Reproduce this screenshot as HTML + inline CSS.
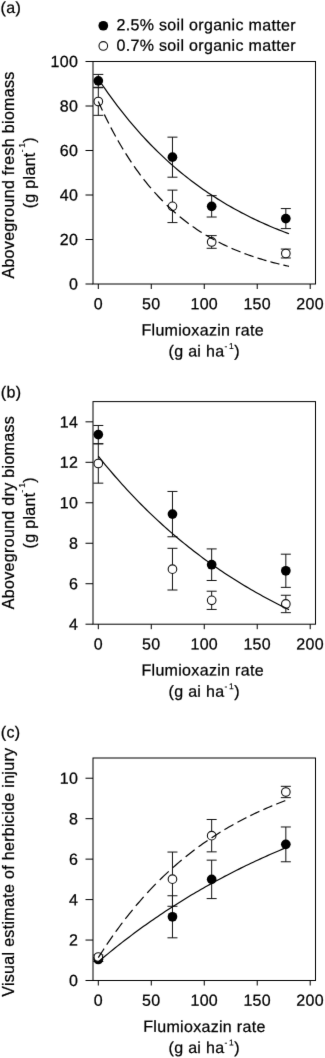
<!DOCTYPE html>
<html><head><meta charset="utf-8"><style>
html,body{margin:0;padding:0;background:#fff;}
body{width:325px;height:1058px;overflow:hidden;}
svg{display:block;will-change:transform;}
text{font-family:"Liberation Sans", sans-serif;font-size:16px;fill:#000;letter-spacing:0.32px;stroke:#000;stroke-width:0.25px;}
</style></head><body>
<svg width="325" height="1058" viewBox="0 0 325 1058">
<defs><filter id="soft" filterUnits="userSpaceOnUse" x="0" y="0" width="325" height="1058" color-interpolation-filters="sRGB"><feConvolveMatrix order="3" kernelMatrix="0.00524 0.06192 0.00524 0.06192 0.73137 0.06192 0.00524 0.06192 0.00524" divisor="1" edgeMode="duplicate" preserveAlpha="true"/></filter></defs>
<g filter="url(#soft)">
<rect width="325" height="1058" fill="#fff"/>
<rect x="93.0" y="61.5" width="222.50" height="222.50" fill="none" stroke="#000" stroke-width="1.0"/>
<line x1="85.5" y1="284.00" x2="93.0" y2="284.00" stroke="#000" stroke-width="1"/>
<text transform="translate(78.15,289.55) rotate(0.03)" text-anchor="end">0</text>
<line x1="85.5" y1="239.50" x2="93.0" y2="239.50" stroke="#000" stroke-width="1"/>
<text transform="translate(78.15,245.05) rotate(0.03)" text-anchor="end">20</text>
<line x1="85.5" y1="195.00" x2="93.0" y2="195.00" stroke="#000" stroke-width="1"/>
<text transform="translate(78.15,200.55) rotate(0.03)" text-anchor="end">40</text>
<line x1="85.5" y1="150.50" x2="93.0" y2="150.50" stroke="#000" stroke-width="1"/>
<text transform="translate(78.15,156.05) rotate(0.03)" text-anchor="end">60</text>
<line x1="85.5" y1="106.00" x2="93.0" y2="106.00" stroke="#000" stroke-width="1"/>
<text transform="translate(78.15,111.55) rotate(0.03)" text-anchor="end">80</text>
<line x1="85.5" y1="61.50" x2="93.0" y2="61.50" stroke="#000" stroke-width="1"/>
<text transform="translate(78.15,67.05) rotate(0.03)" text-anchor="end">100</text>
<line x1="98.30" y1="284.0" x2="98.30" y2="289.0" stroke="#000" stroke-width="1"/>
<text transform="translate(98.30,309.20) rotate(0.03)" text-anchor="middle">0</text>
<line x1="151.27" y1="284.0" x2="151.27" y2="289.0" stroke="#000" stroke-width="1"/>
<text transform="translate(151.27,309.20) rotate(0.03)" text-anchor="middle">50</text>
<line x1="204.25" y1="284.0" x2="204.25" y2="289.0" stroke="#000" stroke-width="1"/>
<text transform="translate(204.25,309.20) rotate(0.03)" text-anchor="middle">100</text>
<line x1="257.23" y1="284.0" x2="257.23" y2="289.0" stroke="#000" stroke-width="1"/>
<text transform="translate(257.23,309.20) rotate(0.03)" text-anchor="middle">150</text>
<line x1="310.20" y1="284.0" x2="310.20" y2="289.0" stroke="#000" stroke-width="1"/>
<text transform="translate(310.20,309.20) rotate(0.03)" text-anchor="middle">200</text>
<text transform="translate(202.66,335.40) rotate(0.03)" text-anchor="middle">Flumioxazin rate</text>
<text transform="translate(204.16,356.50) rotate(0.03)" text-anchor="middle">(g ai ha<tspan dy="-7.5" font-size="8.5" stroke-width="0.12">-</tspan><tspan dx="1.5" font-size="8.5" stroke-width="0.12">1</tspan><tspan dy="7.5">)</tspan></text>
<text transform="translate(13.80,175.00) rotate(-90)" text-anchor="middle">Aboveground fresh biomass</text>
<text transform="translate(35.30,172.65) rotate(-90)" text-anchor="middle">(g plant<tspan dy="-10.3" font-size="8.5" stroke-width="0.12">-</tspan><tspan dx="1.5" font-size="8.5" stroke-width="0.12">1</tspan><tspan dy="10.3">)</tspan></text>
<path d="M98.30,74.41V87.31M93.30,74.41H103.30M93.30,87.31H103.30" stroke="#111" stroke-width="1" fill="none"/>
<path d="M172.46,137.15V177.20M167.46,137.15H177.46M167.46,177.20H177.46" stroke="#111" stroke-width="1" fill="none"/>
<path d="M211.67,195.67V217.03M206.67,195.67H216.67M206.67,217.03H216.67" stroke="#111" stroke-width="1" fill="none"/>
<path d="M285.83,208.57V228.60M280.83,208.57H290.83M280.83,228.60H290.83" stroke="#111" stroke-width="1" fill="none"/>
<path d="M98.30,87.75V115.34M93.30,87.75H103.30M93.30,115.34H103.30" stroke="#111" stroke-width="1" fill="none"/>
<path d="M172.46,190.11V222.59M167.46,190.11H177.46M167.46,222.59H177.46" stroke="#111" stroke-width="1" fill="none"/>
<path d="M211.67,235.61V248.29M206.67,235.61H216.67M206.67,248.29H216.67" stroke="#111" stroke-width="1" fill="none"/>
<path d="M285.83,249.07V257.97M280.83,249.07H290.83M280.83,257.97H290.83" stroke="#111" stroke-width="1" fill="none"/>
<circle cx="98.30" cy="80.86" r="4.85" fill="#000"/>
<circle cx="172.46" cy="157.18" r="4.85" fill="#000"/>
<circle cx="211.67" cy="206.35" r="4.85" fill="#000"/>
<circle cx="285.83" cy="218.58" r="4.85" fill="#000"/>
<circle cx="98.30" cy="101.55" r="4.3" fill="#fff" stroke="#111" stroke-width="1.1"/>
<circle cx="172.46" cy="206.35" r="4.3" fill="#fff" stroke="#111" stroke-width="1.1"/>
<circle cx="211.67" cy="241.95" r="4.3" fill="#fff" stroke="#111" stroke-width="1.1"/>
<circle cx="285.83" cy="253.52" r="4.3" fill="#fff" stroke="#111" stroke-width="1.1"/>
<polyline points="98.30,78.92 100.68,82.50 103.07,86.01 105.45,89.46 107.83,92.85 110.22,96.18 112.60,99.46 114.99,102.67 117.37,105.83 119.75,108.94 122.14,111.99 124.52,114.99 126.90,117.93 129.29,120.83 131.67,123.67 134.06,126.47 136.44,129.21 138.82,131.91 141.21,134.56 143.59,137.17 145.98,139.73 148.36,142.24 150.74,144.71 153.13,147.14 155.51,149.52 157.90,151.87 160.28,154.17 162.66,156.43 165.05,158.66 167.43,160.84 169.82,162.99 172.20,165.10 174.58,167.17 176.97,169.21 179.35,171.21 181.74,173.17 184.12,175.11 186.50,177.00 188.89,178.87 191.27,180.70 193.65,182.50 196.04,184.27 198.42,186.01 200.81,187.72 203.19,189.40 205.57,191.04 207.96,192.66 210.34,194.26 212.73,195.82 215.11,197.36 217.49,198.87 219.88,200.35 222.26,201.81 224.65,203.24 227.03,204.65 229.41,206.03 231.80,207.39 234.18,208.73 236.57,210.04 238.95,211.33 241.33,212.60 243.72,213.84 246.10,215.06 248.49,216.26 250.87,217.44 253.25,218.60 255.64,219.74 258.02,220.86 260.40,221.97 262.79,223.05 265.17,224.11 267.56,225.15 269.94,226.18 272.32,227.19 274.71,228.18 277.09,229.15 279.48,230.11 281.86,231.04 284.24,231.97 286.63,232.87 289.01,233.77" fill="none" stroke="#000" stroke-width="1.2"/>
<path d="M98.30,101.53L98.77,102.59L100.68,106.77L102.43,110.53M104.31,114.48L104.50,114.86L106.40,118.76L108.31,122.57L108.77,123.48M110.81,127.43L111.17,128.12L113.08,131.72L114.99,135.23L115.65,136.43M117.86,140.38L118.32,141.18L120.23,144.48L122.14,147.70L123.15,149.38M125.59,153.33L125.95,153.91L127.86,156.91L129.77,159.84L131.42,162.33M134.11,166.28L134.53,166.88L136.44,169.58L138.35,172.22L140.25,174.80L140.61,175.28M143.64,179.23L144.07,179.78L145.98,182.18L147.88,184.53L149.79,186.83L150.98,188.23M154.42,192.18L154.56,192.33L156.47,194.45L158.37,196.51L160.28,198.53L162.19,200.50L162.85,201.18M166.79,205.08L166.95,205.24L168.86,207.05L170.77,208.83L172.68,210.56L174.58,212.26L175.79,213.31M179.74,216.64L179.83,216.71L181.74,218.27L183.64,219.78L185.55,221.26L187.46,222.71L188.74,223.67M192.69,226.52L192.70,226.52L194.61,227.85L196.52,229.14L198.42,230.41L200.33,231.64L201.69,232.51M205.64,234.94L206.05,235.18L207.96,236.31L209.87,237.41L211.77,238.48L213.68,239.53L214.64,240.06M218.59,242.13L218.92,242.30L220.83,243.26L222.74,244.20L224.65,245.12L226.55,246.02L227.59,246.50M231.54,248.26L231.80,248.38L233.70,249.20L235.61,250.00L237.52,250.79L239.43,251.55L240.54,251.99M244.49,253.50L244.67,253.57L246.58,254.27L248.49,254.96L250.39,255.63L252.30,256.28L253.49,256.68M257.44,257.97L257.54,258.00L259.45,258.60L261.36,259.19L263.27,259.76L265.17,260.32L266.44,260.69M270.39,261.79L270.42,261.79L272.32,262.30L274.23,262.81L276.14,263.29L278.05,263.77L279.39,264.10M283.34,265.04L283.77,265.14L285.67,265.57L287.58,266.00L289.01,266.31" fill="none" stroke="#000" stroke-width="1.2"/>
<rect x="93.0" y="401.6" width="222.50" height="222.60" fill="none" stroke="#000" stroke-width="1.0"/>
<line x1="85.5" y1="624.20" x2="93.0" y2="624.20" stroke="#000" stroke-width="1"/>
<text transform="translate(78.15,629.75) rotate(0.03)" text-anchor="end">4</text>
<line x1="85.5" y1="583.73" x2="93.0" y2="583.73" stroke="#000" stroke-width="1"/>
<text transform="translate(78.15,589.28) rotate(0.03)" text-anchor="end">6</text>
<line x1="85.5" y1="543.25" x2="93.0" y2="543.25" stroke="#000" stroke-width="1"/>
<text transform="translate(78.15,548.80) rotate(0.03)" text-anchor="end">8</text>
<line x1="85.5" y1="502.78" x2="93.0" y2="502.78" stroke="#000" stroke-width="1"/>
<text transform="translate(78.15,508.33) rotate(0.03)" text-anchor="end">10</text>
<line x1="85.5" y1="462.31" x2="93.0" y2="462.31" stroke="#000" stroke-width="1"/>
<text transform="translate(78.15,467.86) rotate(0.03)" text-anchor="end">12</text>
<line x1="85.5" y1="421.84" x2="93.0" y2="421.84" stroke="#000" stroke-width="1"/>
<text transform="translate(78.15,427.39) rotate(0.03)" text-anchor="end">14</text>
<line x1="98.30" y1="624.2" x2="98.30" y2="629.2" stroke="#000" stroke-width="1"/>
<text transform="translate(98.30,649.40) rotate(0.03)" text-anchor="middle">0</text>
<line x1="151.27" y1="624.2" x2="151.27" y2="629.2" stroke="#000" stroke-width="1"/>
<text transform="translate(151.27,649.40) rotate(0.03)" text-anchor="middle">50</text>
<line x1="204.25" y1="624.2" x2="204.25" y2="629.2" stroke="#000" stroke-width="1"/>
<text transform="translate(204.25,649.40) rotate(0.03)" text-anchor="middle">100</text>
<line x1="257.23" y1="624.2" x2="257.23" y2="629.2" stroke="#000" stroke-width="1"/>
<text transform="translate(257.23,649.40) rotate(0.03)" text-anchor="middle">150</text>
<line x1="310.20" y1="624.2" x2="310.20" y2="629.2" stroke="#000" stroke-width="1"/>
<text transform="translate(310.20,649.40) rotate(0.03)" text-anchor="middle">200</text>
<text transform="translate(202.66,675.60) rotate(0.03)" text-anchor="middle">Flumioxazin rate</text>
<text transform="translate(204.16,696.70) rotate(0.03)" text-anchor="middle">(g ai ha<tspan dy="-7.5" font-size="8.5" stroke-width="0.12">-</tspan><tspan dx="1.5" font-size="8.5" stroke-width="0.12">1</tspan><tspan dy="7.5">)</tspan></text>
<text transform="translate(13.80,512.50) rotate(-90)" text-anchor="middle">Aboveground dry biomass</text>
<text transform="translate(35.30,512.80) rotate(-90)" text-anchor="middle">(g plant<tspan dy="-10.3" font-size="8.5" stroke-width="0.12">-</tspan><tspan dx="1.5" font-size="8.5" stroke-width="0.12">1</tspan><tspan dy="10.3">)</tspan></text>
<path d="M98.30,425.48V443.69M93.30,425.48H103.30M93.30,443.69H103.30" stroke="#111" stroke-width="1" fill="none"/>
<path d="M172.46,491.45V536.78M167.46,491.45H177.46M167.46,536.78H177.46" stroke="#111" stroke-width="1" fill="none"/>
<path d="M211.67,548.92V580.49M206.67,548.92H216.67M206.67,580.49H216.67" stroke="#111" stroke-width="1" fill="none"/>
<path d="M285.83,554.18V587.37M280.83,554.18H290.83M280.83,587.37H290.83" stroke="#111" stroke-width="1" fill="none"/>
<path d="M98.30,443.89V483.15M93.30,443.89H103.30M93.30,483.15H103.30" stroke="#111" stroke-width="1" fill="none"/>
<path d="M172.46,548.31V590.00M167.46,548.31H177.46M167.46,590.00H177.46" stroke="#111" stroke-width="1" fill="none"/>
<path d="M211.67,591.21V609.43M206.67,591.21H216.67M206.67,609.43H216.67" stroke="#111" stroke-width="1" fill="none"/>
<path d="M285.83,595.26V612.67M280.83,595.26H290.83M280.83,612.67H290.83" stroke="#111" stroke-width="1" fill="none"/>
<circle cx="98.30" cy="434.59" r="4.85" fill="#000"/>
<circle cx="172.46" cy="514.11" r="4.85" fill="#000"/>
<circle cx="211.67" cy="564.71" r="4.85" fill="#000"/>
<circle cx="285.83" cy="570.78" r="4.85" fill="#000"/>
<circle cx="98.30" cy="463.52" r="4.3" fill="#fff" stroke="#111" stroke-width="1.1"/>
<circle cx="172.46" cy="569.16" r="4.3" fill="#fff" stroke="#111" stroke-width="1.1"/>
<circle cx="211.67" cy="600.32" r="4.3" fill="#fff" stroke="#111" stroke-width="1.1"/>
<circle cx="285.83" cy="603.96" r="4.3" fill="#fff" stroke="#111" stroke-width="1.1"/>
<polyline points="98.30,456.24 100.68,459.20 103.07,462.13 105.45,465.02 107.83,467.88 110.22,470.70 112.60,473.49 114.99,476.24 117.37,478.97 119.75,481.66 122.14,484.32 124.52,486.95 126.90,489.54 129.29,492.11 131.67,494.64 134.06,497.15 136.44,499.62 138.82,502.07 141.21,504.48 143.59,506.87 145.98,509.23 148.36,511.56 150.74,513.87 153.13,516.14 155.51,518.39 157.90,520.61 160.28,522.81 162.66,524.98 165.05,527.12 167.43,529.24 169.82,531.33 172.20,533.40 174.58,535.44 176.97,537.46 179.35,539.46 181.74,541.43 184.12,543.38 186.50,545.30 188.89,547.20 191.27,549.08 193.65,550.94 196.04,552.78 198.42,554.59 200.81,556.38 203.19,558.15 205.57,559.90 207.96,561.63 210.34,563.34 212.73,565.02 215.11,566.69 217.49,568.34 219.88,569.97 222.26,571.57 224.65,573.16 227.03,574.73 229.41,576.28 231.80,577.82 234.18,579.33 236.57,580.83 238.95,582.31 241.33,583.77 243.72,585.22 246.10,586.64 248.49,588.05 250.87,589.45 253.25,590.82 255.64,592.18 258.02,593.53 260.40,594.85 262.79,596.17 265.17,597.46 267.56,598.74 269.94,600.01 272.32,601.26 274.71,602.50 277.09,603.72 279.48,604.93 281.86,606.12 284.24,607.30 286.63,608.46 289.01,609.61" fill="none" stroke="#000" stroke-width="1.2"/>
<rect x="93.0" y="758.0" width="222.50" height="222.50" fill="none" stroke="#000" stroke-width="1.0"/>
<line x1="85.5" y1="980.50" x2="93.0" y2="980.50" stroke="#000" stroke-width="1"/>
<text transform="translate(78.15,986.05) rotate(0.03)" text-anchor="end">0</text>
<line x1="85.5" y1="940.05" x2="93.0" y2="940.05" stroke="#000" stroke-width="1"/>
<text transform="translate(78.15,945.60) rotate(0.03)" text-anchor="end">2</text>
<line x1="85.5" y1="899.59" x2="93.0" y2="899.59" stroke="#000" stroke-width="1"/>
<text transform="translate(78.15,905.14) rotate(0.03)" text-anchor="end">4</text>
<line x1="85.5" y1="859.14" x2="93.0" y2="859.14" stroke="#000" stroke-width="1"/>
<text transform="translate(78.15,864.69) rotate(0.03)" text-anchor="end">6</text>
<line x1="85.5" y1="818.68" x2="93.0" y2="818.68" stroke="#000" stroke-width="1"/>
<text transform="translate(78.15,824.23) rotate(0.03)" text-anchor="end">8</text>
<line x1="85.5" y1="778.23" x2="93.0" y2="778.23" stroke="#000" stroke-width="1"/>
<text transform="translate(78.15,783.78) rotate(0.03)" text-anchor="end">10</text>
<line x1="98.30" y1="980.5" x2="98.30" y2="985.5" stroke="#000" stroke-width="1"/>
<text transform="translate(98.30,1005.70) rotate(0.03)" text-anchor="middle">0</text>
<line x1="151.27" y1="980.5" x2="151.27" y2="985.5" stroke="#000" stroke-width="1"/>
<text transform="translate(151.27,1005.70) rotate(0.03)" text-anchor="middle">50</text>
<line x1="204.25" y1="980.5" x2="204.25" y2="985.5" stroke="#000" stroke-width="1"/>
<text transform="translate(204.25,1005.70) rotate(0.03)" text-anchor="middle">100</text>
<line x1="257.23" y1="980.5" x2="257.23" y2="985.5" stroke="#000" stroke-width="1"/>
<text transform="translate(257.23,1005.70) rotate(0.03)" text-anchor="middle">150</text>
<line x1="310.20" y1="980.5" x2="310.20" y2="985.5" stroke="#000" stroke-width="1"/>
<text transform="translate(310.20,1005.70) rotate(0.03)" text-anchor="middle">200</text>
<text transform="translate(204.46,1031.90) rotate(0.03)" text-anchor="middle">Flumioxazin rate</text>
<text transform="translate(204.16,1053.00) rotate(0.03)" text-anchor="middle">(g ai ha<tspan dy="-7.5" font-size="8.5" stroke-width="0.12">-</tspan><tspan dx="1.5" font-size="8.5" stroke-width="0.12">1</tspan><tspan dy="7.5">)</tspan></text>
<text transform="translate(13.80,872.20) rotate(-90)" text-anchor="middle">Visual estimate of herbicide injury</text>
<path d="M98.30,957.44V961.49M93.30,957.44H103.30M93.30,961.49H103.30" stroke="#111" stroke-width="1" fill="none"/>
<path d="M172.46,895.75V937.82M167.46,895.75H177.46M167.46,937.82H177.46" stroke="#111" stroke-width="1" fill="none"/>
<path d="M211.67,860.15V898.58M206.67,860.15H216.67M206.67,898.58H216.67" stroke="#111" stroke-width="1" fill="none"/>
<path d="M285.83,826.98V861.77M280.83,826.98H290.83M280.83,861.77H290.83" stroke="#111" stroke-width="1" fill="none"/>
<path d="M98.30,955.01V959.06M93.30,955.01H103.30M93.30,959.06H103.30" stroke="#111" stroke-width="1" fill="none"/>
<path d="M172.46,852.06V906.27M167.46,852.06H177.46M167.46,906.27H177.46" stroke="#111" stroke-width="1" fill="none"/>
<path d="M211.67,819.49V851.85M206.67,819.49H216.67M206.67,851.85H216.67" stroke="#111" stroke-width="1" fill="none"/>
<path d="M285.83,786.32V797.65M280.83,786.32H290.83M280.83,797.65H290.83" stroke="#111" stroke-width="1" fill="none"/>
<circle cx="98.30" cy="959.46" r="4.85" fill="#000"/>
<circle cx="172.46" cy="916.78" r="4.85" fill="#000"/>
<circle cx="211.67" cy="879.36" r="4.85" fill="#000"/>
<circle cx="285.83" cy="844.37" r="4.85" fill="#000"/>
<circle cx="98.30" cy="957.04" r="4.3" fill="#fff" stroke="#111" stroke-width="1.1"/>
<circle cx="172.46" cy="879.16" r="4.3" fill="#fff" stroke="#111" stroke-width="1.1"/>
<circle cx="211.67" cy="835.67" r="4.3" fill="#fff" stroke="#111" stroke-width="1.1"/>
<circle cx="285.83" cy="791.98" r="4.3" fill="#fff" stroke="#111" stroke-width="1.1"/>
<polyline points="98.30,961.85 100.68,959.82 103.07,957.82 105.45,955.83 107.83,953.86 110.22,951.91 112.60,949.97 114.99,948.05 117.37,946.15 119.75,944.27 122.14,942.40 124.52,940.56 126.90,938.72 129.29,936.91 131.67,935.11 134.06,933.33 136.44,931.56 138.82,929.81 141.21,928.08 143.59,926.36 145.98,924.66 148.36,922.97 150.74,921.30 153.13,919.65 155.51,918.01 157.90,916.38 160.28,914.77 162.66,913.17 165.05,911.59 167.43,910.02 169.82,908.47 172.20,906.93 174.58,905.41 176.97,903.89 179.35,902.40 181.74,900.91 184.12,899.44 186.50,897.99 188.89,896.54 191.27,895.11 193.65,893.70 196.04,892.29 198.42,890.90 200.81,889.52 203.19,888.15 205.57,886.80 207.96,885.46 210.34,884.13 212.73,882.81 215.11,881.51 217.49,880.21 219.88,878.93 222.26,877.66 224.65,876.40 227.03,875.16 229.41,873.92 231.80,872.70 234.18,871.49 236.57,870.28 238.95,869.09 241.33,867.91 243.72,866.74 246.10,865.58 248.49,864.44 250.87,863.30 253.25,862.17 255.64,861.05 258.02,859.95 260.40,858.85 262.79,857.76 265.17,856.69 267.56,855.62 269.94,854.56 272.32,853.51 274.71,852.48 277.09,851.45 279.48,850.43 281.86,849.42 284.24,848.42 286.63,847.43 289.01,846.44" fill="none" stroke="#000" stroke-width="1.2"/>
<path d="M98.30,957.66L98.77,956.91L100.68,953.91L102.59,950.96L104.09,948.66M106.71,944.71L106.88,944.47L108.79,941.65L110.69,938.88L112.60,936.14L112.91,935.71M115.72,931.76L115.94,931.46L117.85,928.83L119.75,926.25L121.66,923.70L122.37,922.76M125.40,918.81L125.47,918.71L127.38,916.28L129.29,913.87L131.20,911.51L132.58,909.81M135.86,905.86L135.96,905.74L137.87,903.49L139.78,901.28L141.69,899.10L143.59,896.95L143.67,896.86M147.25,892.91L147.41,892.74L149.31,890.68L151.22,888.66L153.13,886.66L155.04,884.69L155.80,883.91M159.73,879.97L159.80,879.90L161.71,878.03L163.62,876.19L165.52,874.37L167.43,872.59L168.73,871.39M172.68,867.80L173.15,867.38L175.06,865.69L176.97,864.03L178.87,862.40L180.78,860.79L181.68,860.04M185.63,856.80L186.03,856.47L187.93,854.95L189.84,853.45L191.75,851.96L193.65,850.51L194.63,849.77M198.58,846.84L198.90,846.60L200.81,845.22L202.71,843.86L204.62,842.52L206.53,841.20L207.58,840.48M211.53,837.83L211.77,837.67L213.68,836.42L215.59,835.19L217.49,833.97L219.40,832.78L220.53,832.08M224.48,829.68L224.65,829.58L226.55,828.45L228.46,827.34L230.37,826.24L232.27,825.16L233.48,824.48M237.43,822.31L237.52,822.26L239.43,821.24L241.33,820.23L243.24,819.24L245.15,818.26L246.43,817.61M250.38,815.64L250.39,815.64L252.30,814.71L254.21,813.80L256.11,812.90L258.02,812.01L259.38,811.39M263.33,809.61L263.74,809.43L265.65,808.59L267.56,807.77L269.46,806.96L271.37,806.16L272.33,805.76M276.28,804.16L276.62,804.02L278.52,803.27L280.43,802.52L282.34,801.79L284.24,801.06L285.28,800.67" fill="none" stroke="#000" stroke-width="1.2"/>
<text transform="translate(0.60,13.10) rotate(0.03)">(a)</text>
<text transform="translate(0.80,397.50) rotate(0.03)">(b)</text>
<text transform="translate(0.80,737.60) rotate(0.03)">(c)</text>
<circle cx="103.30" cy="25.75" r="4.85" fill="#000"/>
<circle cx="103.30" cy="45.95" r="4.3" fill="#fff" stroke="#111" stroke-width="1.1"/>
<text transform="translate(116.50,30.30) rotate(0.03)">2.5% soil organic matter</text>
<text transform="translate(116.50,50.75) rotate(0.03)">0.7% soil organic matter</text>
</g>
</svg>
</body></html>
